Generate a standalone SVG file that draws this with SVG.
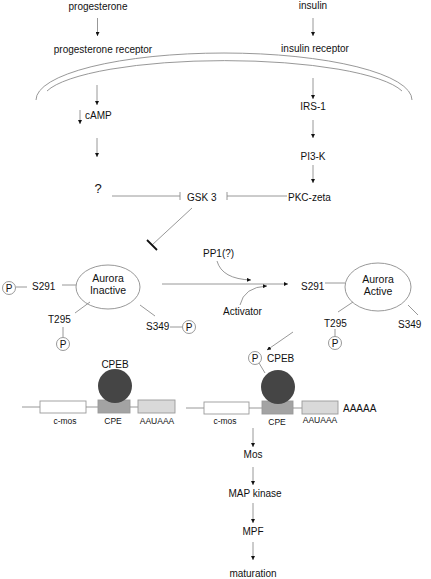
<svg xmlns="http://www.w3.org/2000/svg" width="431" height="579" viewBox="0 0 431 579">
<style>
text{font-family:"Liberation Sans",Arial,sans-serif;font-size:10px;fill:#111}
.c{text-anchor:middle}
.g{font-size:8.5px}
.ln{stroke:#8c8c8c;stroke-width:0.9;fill:none}
.ar{stroke:#8c8c8c;stroke-width:0.9;fill:none;marker-end:url(#ah)}
.pc{fill:#fff;stroke:#8c8c8c;stroke-width:0.9}
.box{stroke:#9a9a9a;stroke-width:0.9}
</style>
<defs>
<marker id="ah" viewBox="0 0 6 6" refX="6" refY="3" markerWidth="4" markerHeight="4" markerUnits="userSpaceOnUse" orient="auto">
<path d="M0,0 L6,3 L0,6 z" fill="#111"/>
</marker>
</defs>
<rect width="431" height="579" fill="#fff"/>

<g id="membrane">
<path class="ln" d="M36,100 A188,47 0 0 1 412,100"/>
<path class="ln" d="M47,91 A182,39 0 0 1 402,91"/>
</g>

<g id="connectors">
<line class="ar" x1="97.5" y1="18" x2="97.5" y2="36"/>
<line class="ar" x1="313" y1="18" x2="313" y2="36"/>
<line class="ar" x1="97" y1="85" x2="97" y2="105"/>
<line class="ar" x1="80" y1="110" x2="80" y2="124"/>
<line class="ar" x1="97" y1="138" x2="97" y2="157"/>
<line class="ar" x1="313" y1="78" x2="313" y2="99"/>
<line class="ar" x1="313" y1="120" x2="313" y2="138"/>
<line class="ar" x1="313" y1="165" x2="313" y2="183"/>
<line class="ar" x1="253" y1="428" x2="253" y2="447"/>
<line class="ar" x1="253" y1="467" x2="253" y2="485"/>
<line class="ar" x1="253" y1="503" x2="253" y2="523"/>
<line class="ar" x1="253" y1="542" x2="253" y2="560"/>
<line class="ln" x1="112" y1="196" x2="180" y2="196"/>
<line class="ln" x1="180" y1="192" x2="180" y2="200"/>
<line class="ln" x1="287" y1="196" x2="227" y2="196"/>
<line class="ln" x1="227" y1="192" x2="227" y2="200"/>
<line class="ln" x1="192" y1="208" x2="152" y2="245"/>
<line x1="147" y1="240" x2="157" y2="250" stroke="#111" stroke-width="1.8"/>
<line class="ar" x1="162" y1="284" x2="288" y2="284"/>
<path class="ar" d="M217,261 Q222,279 251,280"/>
<path class="ar" d="M240,305 Q244,287 267,286"/>
<line class="ar" x1="293" y1="332" x2="267" y2="350"/>
</g>

<g id="progesterone"><text class="c" x="98" y="10">progesterone</text></g>
<g id="progesterone-receptor"><text class="c" x="103" y="53">progesterone receptor</text></g>
<g id="insulin"><text class="c" x="313" y="9">insulin</text></g>
<g id="insulin-receptor"><text class="c" x="315" y="52">insulin receptor</text></g>
<g id="camp"><text x="85" y="119">cAMP</text></g>
<g id="irs1"><text class="c" x="313" y="110">IRS-1</text></g>
<g id="pi3k"><text class="c" x="313" y="160">PI3-K</text></g>
<g id="question"><text class="c" x="98" y="193" style="font-size:13px">?</text></g>
<g id="gsk3"><text x="187" y="201">GSK 3</text></g>
<g id="pkc"><text x="288" y="201">PKC-zeta</text></g>

<g id="aurora-inactive">
<ellipse class="ln" cx="108" cy="287" rx="32" ry="22"/>
<text class="c" x="108" y="282" style="font-size:10.5px">Aurora</text>
<text class="c" x="108" y="294" style="font-size:10.5px">Inactive</text>
<line class="ln" x1="62" y1="285" x2="76" y2="285"/>
<text x="32" y="290">S291</text>
<line class="ln" x1="16" y1="287" x2="27" y2="287"/>
<circle class="pc" cx="9" cy="288" r="6.5"/>
<text class="c" x="9" y="292">P</text>
<line class="ln" x1="90" y1="302" x2="75" y2="313"/>
<text x="48" y="323">T295</text>
<line class="ln" x1="63" y1="327" x2="63" y2="337"/>
<circle class="pc" cx="63" cy="344" r="6.5"/>
<text class="c" x="63" y="348">P</text>
<line class="ln" x1="140" y1="305" x2="155" y2="316"/>
<text x="146" y="330">S349</text>
<line class="ln" x1="170" y1="327" x2="182" y2="327"/>
<circle class="pc" cx="189" cy="327" r="6.5"/>
<text class="c" x="189" y="331">P</text>
</g>

<g id="pp1"><text x="203" y="257">PP1(?)</text></g>
<g id="activator"><text x="223" y="315">Activator</text></g>

<g id="aurora-active">
<ellipse class="ln" cx="378" cy="287" rx="33" ry="24"/>
<text class="c" x="378" y="283" style="font-size:10.5px">Aurora</text>
<text class="c" x="378" y="295" style="font-size:10.5px">Active</text>
<text x="301" y="290">S291</text>
<line class="ln" x1="325" y1="283" x2="345" y2="283"/>
<line class="ln" x1="353" y1="302" x2="338" y2="312"/>
<text x="324" y="327">T295</text>
<line class="ln" x1="335" y1="329" x2="335" y2="337"/>
<circle class="pc" cx="335" cy="343" r="6.5"/>
<text class="c" x="335" y="347">P</text>
<line class="ln" x1="408" y1="305" x2="418" y2="315"/>
<text x="398" y="328">S349</text>
</g>

<g id="gene-left">
<line class="ln" x1="22" y1="407" x2="40" y2="407"/>
<rect class="box" x="40" y="401" width="46" height="12" fill="#fff"/>
<line class="ln" x1="86" y1="407" x2="98" y2="407"/>
<rect class="box" x="98" y="400" width="32" height="13" fill="#a3a3a3"/>
<line class="ln" x1="130" y1="407" x2="138" y2="407"/>
<rect class="box" x="138" y="400" width="37" height="13" fill="#d9d9d9"/>
<circle cx="115" cy="386" r="17" fill="#454545"/>
<text class="c" x="115" y="368">CPEB</text>
<text class="c g" x="65" y="424">c-mos</text>
<text class="c g" x="113" y="424">CPE</text>
<text class="c g" x="157" y="424">AAUAAA</text>
</g>

<g id="gene-right">
<line class="ln" x1="186" y1="408" x2="204" y2="408"/>
<rect class="box" x="204" y="402" width="45" height="12" fill="#fff"/>
<line class="ln" x1="249" y1="408" x2="262" y2="408"/>
<rect class="box" x="262" y="401" width="31" height="13" fill="#a3a3a3"/>
<line class="ln" x1="293" y1="408" x2="302" y2="408"/>
<rect class="box" x="302" y="401" width="36" height="13" fill="#d9d9d9"/>
<circle cx="278" cy="387" r="17" fill="#454545"/>
<line class="ln" x1="259" y1="363" x2="265" y2="373"/>
<circle class="pc" cx="255" cy="358" r="6.5"/>
<text class="c" x="255" y="362">P</text>
<text x="267" y="362">CPEB</text>
<text x="343" y="412">AAAAA</text>
<text class="c g" x="225" y="424">c-mos</text>
<text class="c g" x="277" y="425">CPE</text>
<text class="c g" x="320" y="423">AAUAAA</text>
</g>

<g id="mos"><text class="c" x="253" y="458">Mos</text></g>
<g id="mapk"><text class="c" x="255" y="497">MAP kinase</text></g>
<g id="mpf"><text class="c" x="253" y="535">MPF</text></g>
<g id="maturation"><text class="c" x="253" y="577">maturation</text></g>
</svg>
